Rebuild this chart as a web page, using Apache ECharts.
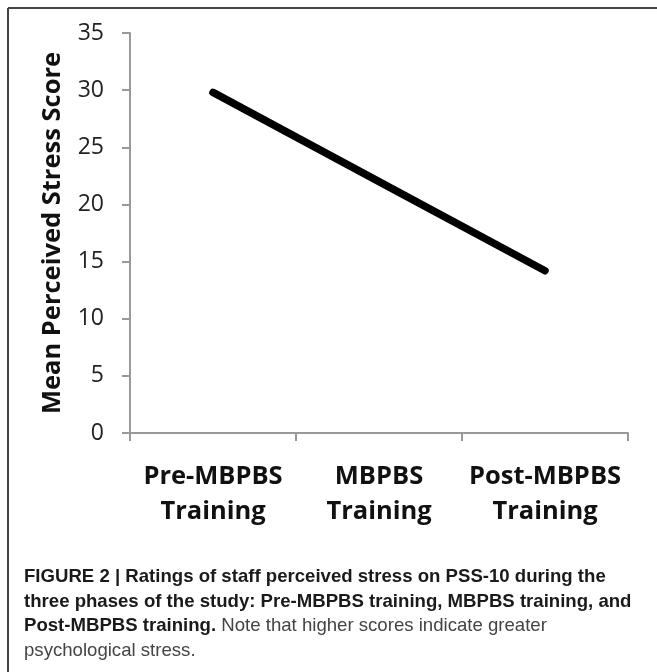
<!DOCTYPE html>
<html>
<head>
<meta charset="utf-8">
<script src="https://cdn.jsdelivr.net/npm/echarts@6/dist/echarts.min.js"></script>
<style>
  html, body { margin: 0; padding: 0; background: #fff; }
  #chart { width: 657px; height: 672px; }
</style>
</head>
<body>
<div id="chart"></div>
<script>
// phases of the study
const phases = ['Pre-MBPBS\nTraining', 'MBPBS\nTraining', 'Post-MBPBS\nTraining'];
// mean PSS-10 score per phase
const stressScores = [29.8, 22.0, 14.2];
const yMin = 0, yMax = 35, yStep = 5;

// caption lines, {b|..} = bold part
const captionLines = [
    '{b|FIGURE 2 | Ratings of staff perceived stress on PSS-10 during the}',
    '{b|three phases of the study: Pre-MBPBS training, MBPBS training, and}',
    '{b|Post-MBPBS training.}{n| Note that higher scores indicate greater}',
    '{n|psychological stress.}'
];

let dom = document.getElementById('chart');
let myChart = echarts.init(dom);

// caption + frame
let graphics = [
    { type: 'line', shape: { x1: 8, y1: 8, x2: 657, y2: 8 }, style: { stroke: '#444', lineWidth: 2 } },
    { type: 'line', shape: { x1: 8, y1: 8, x2: 8, y2: 672 }, style: { stroke: '#444', lineWidth: 2 } }
];
captionLines.forEach(function (txt, i) {
    graphics.push({
        type: 'text',
        x: 24,
        y: 577 + i * 24.6,
        style: {
            text: txt,
            verticalAlign: 'middle',
            rich: {
                b: { fontFamily: 'Liberation Sans', fontWeight: 'bold', fontSize: 18.6, fill: '#1a1a1a' },
                n: { fontFamily: 'Liberation Sans', fontSize: 18.6, fill: '#444' }
            }
        }
    });
});

let option = {
    animation: false,
    backgroundColor: '#fff',
    grid: { left: 130, right: 29, top: 33, bottom: 239, containLabel: false },
    xAxis: {
        type: 'category',
        data: phases,
        boundaryGap: true,
        axisLine: { show: true, lineStyle: { color: '#999', width: 2 } },
        axisTick: { show: true, interval: 0, length: 8, lineStyle: { color: '#999', width: 2 } },
        axisLabel: {
            interval: 0,
            hideOverlap: false,
            margin: 26,
            fontFamily: 'Open Sans',
            fontWeight: 'bold',
            fontSize: 25.5,
            lineHeight: 35,
            color: '#111'
        }
    },
    yAxis: {
        type: 'value',
        min: yMin,
        max: yMax,
        interval: yStep,
        name: 'Mean Perceived Stress Score',
        nameLocation: 'middle',
        nameRotate: 90,
        nameGap: 64,
        nameTextStyle: { fontFamily: 'Open Sans', fontWeight: 'bold', fontSize: 25.5, color: '#111' },
        axisLine: { show: true, lineStyle: { color: '#999', width: 2 } },
        axisTick: { show: true, length: 8, lineStyle: { color: '#999', width: 2 } },
        splitLine: { show: false },
        axisLabel: { margin: 26, fontFamily: 'Open Sans', fontSize: 23, color: '#222' }
    },
    series: [{
        type: 'line',
        data: stressScores,
        symbol: 'none',
        lineStyle: { color: '#000', width: 7.5, cap: 'round' }
    }],
    graphic: graphics
};

myChart.setOption(option, true);
</script>
</body>
</html>
